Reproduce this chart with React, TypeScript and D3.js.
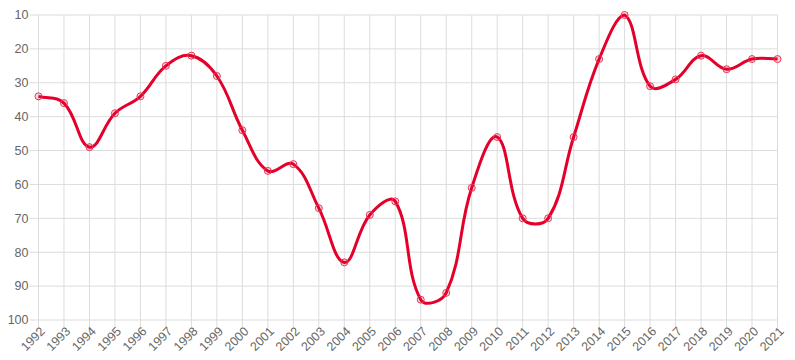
import React, { useEffect, useRef } from "react";
import * as d3 from "d3";

const years = [
  "1992", "1993", "1994", "1995", "1996", "1997", "1998", "1999", "2000", "2001",
  "2002", "2003", "2004", "2005", "2006", "2007", "2008", "2009", "2010", "2011",
  "2012", "2013", "2014", "2015", "2016", "2017", "2018", "2019", "2020", "2021",
];
const ranks = [
  34, 36, 49, 39, 34, 25, 22, 28, 44, 56,
  54, 67, 83, 69, 65, 94, 92, 61, 46, 70,
  70, 46, 23, 10, 31, 29, 22, 26, 23, 23,
];
const yTicks = [10, 20, 30, 40, 50, 60, 70, 80, 90, 100];

const App = () => {
  const svgRef = useRef<SVGSVGElement | null>(null);

  useEffect(() => {
    const width = 795;
    const height = 360;
    const margin = { top: 15, right: 17.5, bottom: 40, left: 38.5 };
    const font = "'Liberation Sans', Arial, sans-serif";

    const svg = d3.select(svgRef.current).attr("width", width).attr("height", height);
    svg.selectAll("*").remove();

    const x = d3
      .scalePoint<string>()
      .domain(years)
      .range([margin.left, width - margin.right]);

    const y = d3
      .scaleLinear()
      .domain([10, 100])
      .range([margin.top, height - margin.bottom]);

    // grid + tick marks
    const grid = svg.append("g").attr("stroke", "#dcdcdc").attr("stroke-width", 1);
    yTicks.forEach((t) => {
      grid.append("line")
        .attr("x1", margin.left - 9).attr("x2", width - margin.right)
        .attr("y1", y(t)).attr("y2", y(t));
    });
    years.forEach((yr) => {
      grid.append("line")
        .attr("x1", x(yr)!).attr("x2", x(yr)!)
        .attr("y1", margin.top).attr("y2", height - margin.bottom + 8);
    });

    // y labels
    svg.append("g").selectAll("text")
      .data(yTicks)
      .enter()
      .append("text")
      .attr("x", margin.left - 10)
      .attr("y", (d) => y(d))
      .attr("dy", "0.35em")
      .attr("text-anchor", "end")
      .attr("font-family", font)
      .attr("font-size", 12.5)
      .attr("fill", "#666")
      .text((d) => d);

    // x labels
    svg.append("g").selectAll("text")
      .data(years)
      .enter()
      .append("text")
      .attr("transform", (d) => `translate(${x(d)! + 4},${height - margin.bottom + 9}) rotate(-45)`)
      .attr("dy", "0.35em")
      .attr("text-anchor", "end")
      .attr("font-family", font)
      .attr("font-size", 12.5)
      .attr("fill", "#666")
      .text((d) => d);

    // Chart.js style bezier (tension 0.4, capped to chart area)
    const pts = years.map((yr, i) => ({ x: x(yr)!, y: y(ranks[i]) }));
    const t = 0.4;
    const cps = pts.map((p, i) => {
      const prev = pts[i - 1] || p;
      const next = pts[i + 1] || p;
      const d01 = Math.hypot(p.x - prev.x, p.y - prev.y);
      const d12 = Math.hypot(next.x - p.x, next.y - p.y);
      let s01 = d01 / (d01 + d12);
      let s12 = d12 / (d01 + d12);
      if (isNaN(s01)) s01 = 0;
      if (isNaN(s12)) s12 = 0;
      const fa = t * s01;
      const fb = t * s12;
      const cap = (v: number) => Math.max(margin.top, Math.min(height - margin.bottom, v));
      return {
        px: p.x - fa * (next.x - prev.x),
        py: cap(p.y - fa * (next.y - prev.y)),
        nx: p.x + fb * (next.x - prev.x),
        ny: cap(p.y + fb * (next.y - prev.y)),
      };
    });
    const path = d3.path();
    path.moveTo(pts[0].x, pts[0].y);
    for (let i = 1; i < pts.length; i++) {
      path.bezierCurveTo(cps[i - 1].nx, cps[i - 1].ny, cps[i].px, cps[i].py, pts[i].x, pts[i].y);
    }

    svg.append("path")
      .attr("d", path.toString())
      .attr("fill", "none")
      .attr("stroke", "#e4002b")
      .attr("stroke-width", 3);

    svg.append("g").selectAll("circle")
      .data(pts)
      .enter()
      .append("circle")
      .attr("cx", (d) => d.x)
      .attr("cy", (d) => d.y)
      .attr("r", 3.5)
      .attr("fill", "rgba(228,0,43,0.15)")
      .attr("stroke", "#e8385a")
      .attr("stroke-width", 1);
  }, []);

  return <svg ref={svgRef} style={{ position: "absolute", left: 0, top: 0 }}></svg>;
};

export default App;
